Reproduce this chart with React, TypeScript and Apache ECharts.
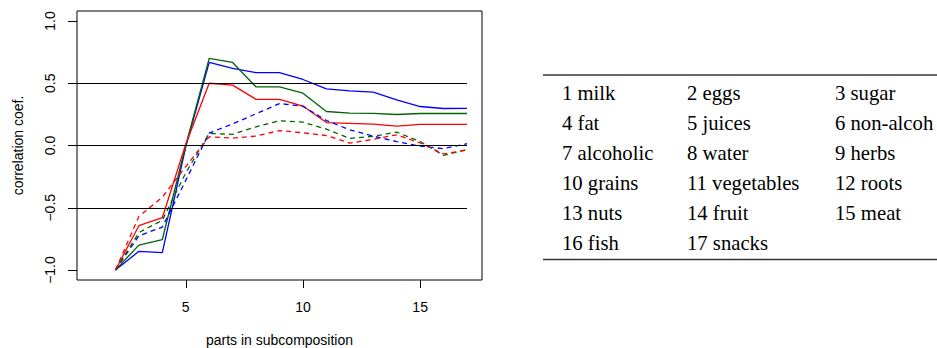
import React, { useEffect, useRef } from "react";
import * as echarts from "echarts";

const parts = [2, 3, 4, 5, 6, 7, 8, 9, 10, 11, 12, 13, 14, 15, 16, 17];

const blueSolid = [-1.0, -0.85, -0.86, -0.01, 0.667, 0.62, 0.585, 0.585, 0.53, 0.455, 0.439, 0.428, 0.366, 0.313, 0.297, 0.298];
const greenSolid = [-1.0, -0.8, -0.755, 0.0, 0.7, 0.667, 0.47, 0.47, 0.42, 0.273, 0.26, 0.258, 0.249, 0.257, 0.257, 0.257];
const redSolid = [-1.0, -0.644, -0.58, 0.01, 0.5, 0.485, 0.37, 0.37, 0.317, 0.184, 0.178, 0.172, 0.155, 0.17, 0.17, 0.17];

const blueDashed = [-1.0, -0.725, -0.655, -0.28, 0.1, 0.173, 0.255, 0.337, 0.315, 0.2, 0.126, 0.075, 0.032, -0.005, -0.025, 0.014];
const greenDashed = [-1.0, -0.7, -0.6, -0.22, 0.097, 0.09, 0.15, 0.198, 0.188, 0.131, 0.057, 0.074, 0.107, 0.032, -0.08, -0.033];
const redDashed = [-1.0, -0.57, -0.415, -0.17, 0.07, 0.059, 0.076, 0.12, 0.102, 0.08, 0.019, 0.05, 0.086, 0.02, -0.068, -0.035];

const xTicks = [5, 10, 15];
const yTicks = [-1.0, -0.5, 0.0, 0.5, 1.0];
const refLines = [0.5, 0.0, -0.5];
const refLineEnd = 17;

const tableItems = [
  "1 milk", "2 eggs", "3 sugar",
  "4 fat", "5 juices", "6 non-alcoh",
  "7 alcoholic", "8 water", "9 herbs",
  "10 grains", "11 vegetables", "12 roots",
  "13 nuts", "14 fruit", "15 meat",
  "16 fish", "17 snacks",
];

const X_MIN = 0.36;
const X_MAX = 17.64;
const Y_MIN = -1.08;
const Y_MAX = 1.08;

const SANS = "'Liberation Sans', Arial, sans-serif";
const SERIF = "'Liberation Serif', 'Times New Roman', serif";

function pairs(vals: number[]) {
  return parts.map((p, i) => [p, vals[i]]);
}

export default function App() {
  const ref = useRef<HTMLDivElement>(null);

  useEffect(() => {
    if (!ref.current) return;
    const chart = echarts.init(ref.current, undefined, { renderer: "svg" });

    const colX = [562, 687, 835];
    const rowY0 = 92.5;
    const rowStep = 30;
    const tableGraphics: any[] = tableItems.map((t, i) => ({
      type: "text",
      x: colX[i % 3],
      y: rowY0 + Math.floor(i / 3) * rowStep,
      style: {
        text: t,
        fontSize: 20.7,
        fontFamily: SERIF,
        fill: "#000",
        align: "left",
        verticalAlign: "middle",
      },
    }));
    tableGraphics.push(
      { type: "line", shape: { x1: 543, y1: 75, x2: 937, y2: 75 }, style: { stroke: "#333", lineWidth: 1.5 } },
      { type: "line", shape: { x1: 543, y1: 259.5, x2: 937, y2: 259.5 }, style: { stroke: "#333", lineWidth: 1.5 } }
    );

    const mk = (name: string, vals: number[], color: string, dashed: boolean, extra: any = {}) => ({
      name,
      type: "line",
      data: pairs(vals),
      showSymbol: false,
      symbol: "none",
      lineStyle: { color, width: 1.3, type: dashed ? [5, 4] : "solid" },
      z: 3,
      ...extra,
    });

    chart.setOption({
      animation: false,
      grid: {
        left: 77,
        top: 11,
        width: 405,
        height: 269,
        show: true,
        borderColor: "#000",
        borderWidth: 1,
        backgroundColor: "transparent",
        containLabel: false,
        outerBoundsMode: "none",
      },
      xAxis: {
        type: "value",
        min: X_MIN,
        max: X_MAX,
        splitLine: { show: false },
        axisLine: { show: false, onZero: false },
        axisTick: { show: true, length: 8, lineStyle: { color: "#000" }, customValues: xTicks },
        axisLabel: { customValues: xTicks, margin: 20, fontSize: 14, fontFamily: SANS, color: "#000" },
        name: "parts in subcomposition",
        nameLocation: "middle",
        nameGap: 53,
        nameTextStyle: { fontSize: 14, fontFamily: SANS, color: "#000" },
      },
      yAxis: {
        type: "value",
        min: Y_MIN,
        max: Y_MAX,
        splitLine: { show: false },
        axisLine: { show: false, onZero: false },
        axisTick: { show: true, length: 9, lineStyle: { color: "#000" }, customValues: yTicks },
        axisLabel: {
          customValues: yTicks,
          rotate: 90,
          margin: 20,
          fontSize: 14,
          fontFamily: SANS,
          color: "#000",
          formatter: (v: number) => (v < 0 ? "\u2212" + Math.abs(v).toFixed(1) : v.toFixed(1)),
        },
        name: "correlation coef.",
        nameLocation: "middle",
        nameRotate: 90,
        nameGap: 52,
        nameTextStyle: { fontSize: 14, fontFamily: SANS, color: "#000" },
      },
      graphic: tableGraphics,
      series: [
        mk("ref", [], "#000", false, {
          data: [],
          markLine: {
            silent: true,
            symbol: ["none", "none"],
            label: { show: false },
            lineStyle: { color: "#000", width: 1, type: "solid" },
            data: refLines.map((v) => [{ coord: [X_MIN, v] }, { coord: [refLineEnd, v] }]),
          },
          z: 1,
        }),
        mk("blue solid", blueSolid, "#0000FF", false),
        mk("green solid", greenSolid, "#006400", false),
        mk("red solid", redSolid, "#FF0000", false),
        mk("blue dashed", blueDashed, "#0000FF", true),
        mk("green dashed", greenDashed, "#006400", true),
        mk("red dashed", redDashed, "#FF0000", true),
      ],
    });

    return () => chart.dispose();
  }, []);

  return <div ref={ref} style={{ width: 937, height: 348, position: "absolute", left: 0, top: 0 }} />;
}
